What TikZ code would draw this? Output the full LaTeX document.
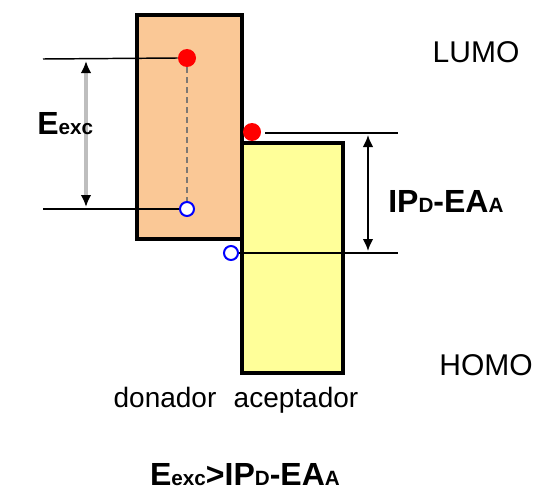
\documentclass[tikz,border=0pt]{standalone}
\usepackage{fontspec}
\setmainfont{Liberation Sans}
\usetikzlibrary{arrows.meta}
\definecolor{donorfill}{RGB}{250,200,150}
\definecolor{accfill}{RGB}{255,255,153}
\definecolor{arrgray}{RGB}{190,190,190}
\definecolor{dashgray}{RGB}{125,120,115}
\newcommand{\bigb}{\bfseries\fontsize{24}{26}\selectfont}
\newcommand{\smb}[1]{{\fontsize{15.5}{16}\selectfont #1}}
\begin{document}
\begin{tikzpicture}[x=0.75pt,y=-0.75pt,
  box/.style={draw=black,line width=2.3pt,inner sep=0pt},
  eline/.style={line width=1.1pt},
  elec/.style={circle,fill=red,inner sep=0pt,minimum size=13.5pt},
  hole/.style={circle,draw=blue,line width=1.5pt,fill=white,inner sep=0pt,minimum size=10.5pt},
  lbl/.style={inner sep=0pt,font=\fontsize{22.5}{24}\selectfont},
  sublbl/.style={inner sep=0pt,font=\fontsize{21}{22}\selectfont},
  ]
\useasboundingbox (0,0) rectangle (538,492);
% boxes
\node[box,fill=accfill,minimum width=101*0.75pt,minimum height=230*0.75pt] (acc) at (292.5,258) {};
\node[box,fill=donorfill,minimum width=105*0.75pt,minimum height=224*0.75pt] (don) at (189.5,127) {};
% donor levels
\node[elec] (eD) at (187,58) {};
\node[hole] (hD) at (187,209) {};
\draw[dashgray,line width=1.9pt,dash pattern=on 4.5pt off 3pt] (eD) -- (hD);
\coordinate (lD) at (43,59);
\coordinate (hDl) at (43,209);
\draw[eline] (lD) -- (eD.west);
\draw[eline] (hDl) -- (hD.west);
\coordinate (a1) at (86,61);
\coordinate (a2) at (86,207);
\draw[arrgray,line width=2.4pt,{Latex[length=9pt,width=8pt,color=black]}-{Latex[length=9pt,width=8pt,color=black]}] (a1) -- (a2);
% acceptor levels
\node[elec] (eA) at (252,132) {};
\node[hole] (hA) at (231,253) {};
\coordinate (lA) at (398,133);
\coordinate (hAr) at (398,253);
\coordinate (lAs) at (265,133);
\draw[eline] (lAs) -- (lA);
\draw[eline] (hA.east) -- (hAr);
\coordinate (b1) at (368,135);
\coordinate (b2) at (368,251);
\draw[line width=1.4pt,{Latex[length=9pt,width=8pt]}-{Latex[length=9pt,width=8pt]}] (b1) -- (b2);
% labels
\node[lbl,anchor=base] (lumo) at (476,62) {LUMO};
\node[lbl,anchor=base] (homo) at (486,375) {HOMO};
\node[inner sep=0pt,anchor=base west] (eexc) at (37,134) {\bigb E\smb{exc}};
\node[inner sep=0pt,anchor=base west] (ipea) at (388,212) {\bigb IP\smb{D}-EA\smb{A}};
\node[sublbl,anchor=base] (donl) at (165,407) {donador};
\node[sublbl,anchor=base] (accl) at (296,407) {aceptador};
\node[inner sep=0pt,anchor=base] (cond) at (245,485) {\bigb E\smb{exc}>IP\smb{D}-EA\smb{A}};
\end{tikzpicture}
\end{document}
